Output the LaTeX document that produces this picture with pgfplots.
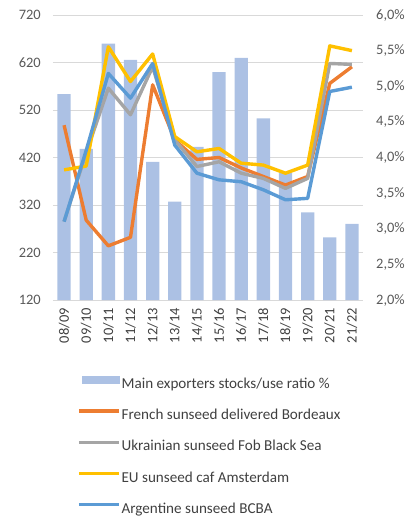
\documentclass[border=0pt]{standalone}
\usepackage{pgfplots}
\pgfplotsset{compat=1.18}
\usepackage{fontspec}
\setmainfont{Carlito}
\definecolor{barblue}{RGB}{172,193,228}
\definecolor{cOrange}{RGB}{237,125,49}
\definecolor{cGray}{RGB}{165,165,165}
\definecolor{cYellow}{RGB}{255,192,0}
\definecolor{cBlue}{RGB}{91,155,213}
\definecolor{gridc}{RGB}{217,217,217}
\definecolor{ticktext}{RGB}{89,89,89}
\definecolor{legtext}{RGB}{64,64,64}
\pgfplotsset{
  base/.style={scale only axis, width=310bp, height=285bp,
    xmin=-0.5, xmax=13.5, at={(0,0)}, anchor=south west,
    /pgf/number format/assume math mode=true,
    major tick length=0pt, tick style={draw=none},
    font=\fontsize{14.5}{17}\selectfont}
}
\begin{document}
\begin{tikzpicture}
\begin{axis}[base, ymin=120, ymax=720, ytick={120,220,...,720},
  ymajorgrids, grid style={gridc, line width=0.9bp},
  axis line style={draw=none},
  xtick={0,...,13},
  xticklabels={08/09,09/10,10/11,11/12,12/13,13/14,14/15,15/16,16/17,17/18,18/19,19/20,20/21,21/22},
  xticklabel style={rotate=90, anchor=east, inner xsep=8bp, inner ysep=0pt, text=legtext},
  yticklabel style={anchor=east, inner xsep=0pt, xshift=-12bp, text=ticktext}]
\end{axis}
\begin{axis}[base, ymin=2, ymax=6, ytick={2,2.5,...,6},
  axis y line*=right, axis x line=none, axis line style={draw=none},
  yticklabel={\pgfmathprintnumber[fixed, fixed zerofill, precision=1, use comma]{\tick}\%},
  yticklabel style={anchor=west, inner xsep=0pt, xshift=13bp, text=ticktext}]
\addplot[ybar, bar width=0.6, fill=barblue, draw=none] coordinates {
(0,4.89) (1,4.12) (2,5.60) (3,5.37) (4,3.94) (5,3.38) (6,4.15)
(7,5.20) (8,5.40) (9,4.55) (10,3.78) (11,3.23) (12,2.88) (13,3.07)};
\end{axis}
\begin{axis}[base, ymin=120, ymax=720, hide axis,
  legend image code/.code={\draw[#1] (0bp,5bp) -- (40bp,5bp);},
  legend cell align=left,
  legend style={at={(0.0774,-0.2667)}, anchor=north west, draw=none, fill=none,
    inner sep=0pt, column sep=0pt, row sep=18bp, text=legtext,
    font=\fontsize{15.2}{17}\selectfont,
    nodes={inner xsep=1bp, inner ysep=0pt, text height=10bp, text depth=3bp}}]
\addlegendimage{legend image code/.code={\fill[barblue] (3bp,1.5bp) rectangle (40bp,8.5bp);}}
\addlegendentry{Main exporters stocks/use ratio \%}
\addplot[cOrange, line width=3.4bp, line join=round] coordinates {
(0,488) (1,288) (2,234) (3,252) (4,573) (5,457) (6,416) (7,420) (8,398) (9,380) (10,362) (11,380) (12,576) (13,611)};
\addlegendentry{French sunseed delivered Bordeaux}
\addplot[cGray, line width=3.4bp, line join=round] coordinates {
(0,285) (1,430) (2,566) (3,510) (4,611) (5,457) (6,401) (7,411) (8,387) (9,376) (10,355) (11,376) (12,618) (13,616)};
\addlegendentry{Ukrainian sunseed Fob Black Sea}
\addplot[cYellow, line width=3.4bp, line join=round] coordinates {
(0,394) (1,402) (2,653) (3,580) (4,638) (5,464) (6,432) (7,439) (8,408) (9,404) (10,387) (11,404) (12,655) (13,645)};
\addlegendentry{EU sunseed caf Amsterdam}
\addplot[cBlue, line width=3.4bp, line join=round] coordinates {
(0,285) (1,435) (2,597) (3,545) (4,618) (5,446) (6,387) (7,373) (8,369) (9,352) (10,331) (11,334) (12,559) (13,568)};
\addlegendentry{Argentine sunseed BCBA}
\end{axis}
\pgfresetboundingbox
\path[use as bounding box] (-53bp,-216bp) rectangle (353bp,300bp);
\end{tikzpicture}
\end{document}
